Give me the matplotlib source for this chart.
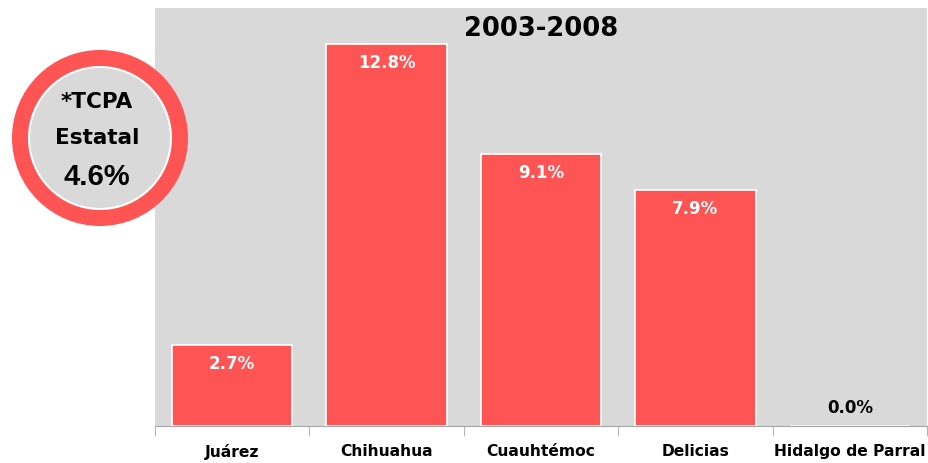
import matplotlib.pyplot as plt
from matplotlib.patches import Circle

# data
municipios = ["Juárez", "Chihuahua", "Cuauhtémoc", "Delicias", "Hidalgo de Parral"]
tcpa = [2.7, 12.8, 9.1, 7.9, 0.0]
etiquetas = ["2.7%", "12.8%", "9.1%", "7.9%", "0.0%"]
periodo = "2003-2008"
tcpa_estatal = "4.6%"

rojo = "#FF5454"
gris = "#D9D9D9"
plt.rcParams['font.family'] = ['DejaVu Sans']

W, H = 929, 463
fig = plt.figure(figsize=(W / 100, H / 100), dpi=100)
ax = fig.add_axes([155 / W, (H - 426) / H, (927 - 155) / W, (426 - 8) / H])
ax.set_facecolor(gris)

x = range(len(municipios))
ax.bar(x, tcpa, width=0.78, color=rojo, edgecolor="white", linewidth=1.2, zorder=2)
ax.set_xlim(-0.5, len(municipios) - 0.5)
ax.set_ylim(0, 14)

for i, v in enumerate(tcpa):
    if v > 1:
        ax.text(i, v - 0.64, etiquetas[i], ha="center", va="center", color="white",
                fontsize=12, fontweight="bold", zorder=3)
    else:
        ax.text(i, v + 0.6, etiquetas[i], ha="center", va="center", color="black",
                fontsize=12, fontweight="bold", zorder=3)

ax.text(0.5, 0.95, periodo, transform=ax.transAxes, ha="center", va="center",
        fontsize=18.5, fontweight="bold")

ax.set_xticks(list(x))
ax.set_xticklabels(municipios, fontsize=11.2, fontweight="bold")
ax.tick_params(axis="x", which="major", length=0, pad=13)
ax.set_xticks([i - 0.5 for i in range(len(municipios) + 1)], minor=True)
ax.tick_params(axis="x", which="minor", length=7, color="#A6A6A6")
ax.set_yticks([])
for s in ["top", "right", "left"]:
    ax.spines[s].set_visible(False)
ax.spines["bottom"].set_color("#A6A6A6")

# circle with the state rate
ov = fig.add_axes([0, 0, 1, 1], zorder=5)
ov.set_xlim(0, W)
ov.set_ylim(H, 0)
ov.axis("off")
ov.add_patch(Circle((100, 138), 88, facecolor=rojo, edgecolor="none"))
ov.add_patch(Circle((100, 138), 71, facecolor=gris, edgecolor="white", linewidth=1.5))
ov.text(97, 102, "*TCPA", ha="center", va="center", fontsize=15.5, fontweight="bold")
ov.text(97, 138, "Estatal", ha="center", va="center", fontsize=15.5, fontweight="bold")
ov.text(97, 177, tcpa_estatal, ha="center", va="center", fontsize=21, fontweight="bold",
        family="Liberation Sans")

fig.savefig("out.png", dpi=100)
